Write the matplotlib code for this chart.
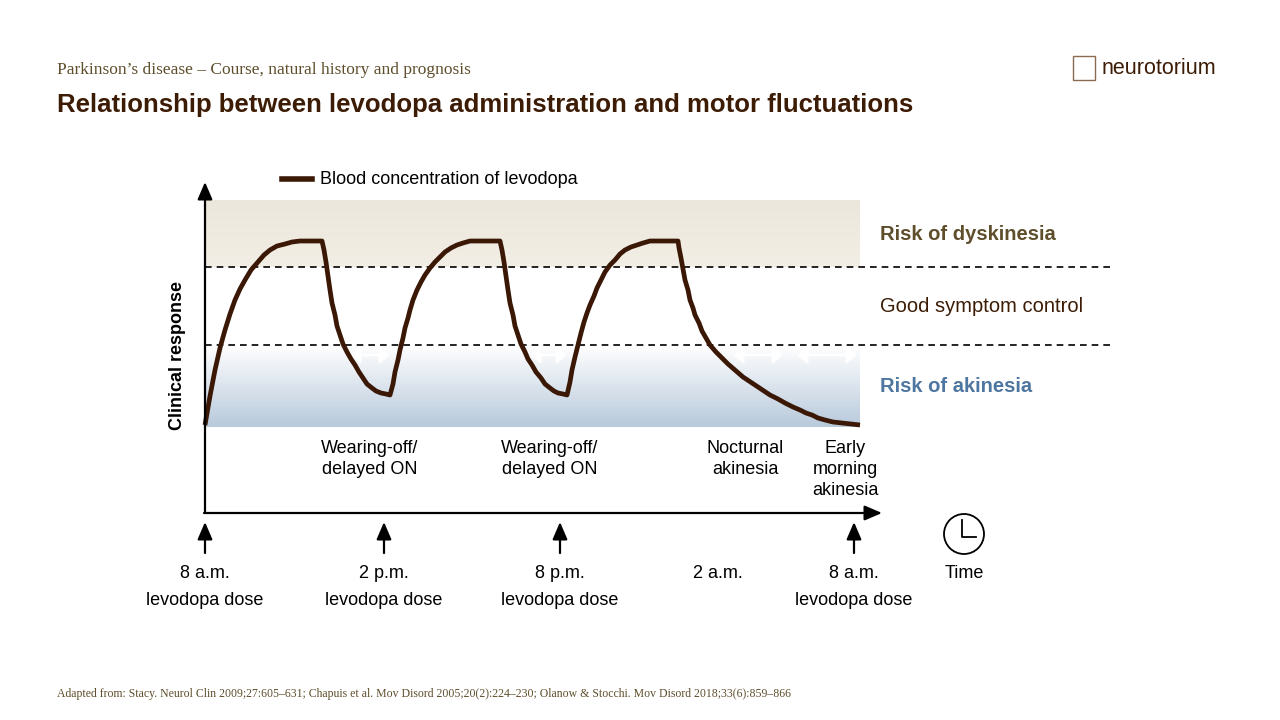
import numpy as np
import matplotlib
matplotlib.use("Agg")
import matplotlib.pyplot as plt
from matplotlib.patches import FancyArrowPatch, Circle

# data (pixel-space reading of the levodopa curve)
curve_x = [205,210,215,220,225,230,235,240,245,251,258,264,270,277,285,292,300,312,322,324,326,328,330,332,335,337,340,343,347,351,355,359,363,367,372,376,381,386,390,
           393,395,398,400,403,405,408,410,413,417,421,425,430,435,440,445,451,457,463,470,477,485,500,502,504,506,508,510,513,515,518,521,525,528,532,536,541,545,550,554,558,563,567,
           570,572,575,578,581,584,587,590,594,597,601,605,610,615,620,625,631,637,643,650,657,664,678,679,681,683,685,688,690,693,695,699,702,706,710,716,722,728,735,743,752,761,770,778,785,793,800,806,812,818,825,833,842,851,860]
curve_y = [425,396,370,348,330,314,300,289,280,270,262,255,250,246,244,242,241,241,241,250,262,276,290,303,315,326,335,344,352,359,365,372,378,384,388,391,393,394,395,
           384,372,360,350,338,328,318,310,300,290,282,275,268,262,257,252,248,245,243,241,241,241,241,250,262,276,290,303,315,326,335,344,352,359,365,372,378,384,388,391,393,394,395,
           382,370,357,345,333,322,313,305,296,288,280,272,265,260,254,250,247,245,243,241,241,241,241,248,258,269,280,290,300,308,315,323,331,338,345,352,358,364,370,377,383,389,395,399,403,407,410,413,415,418,420,422,423,424,425]
dose_x = [205, 384, 560, 718, 854]
dose_labels = ["8 a.m.\nlevodopa dose", "2 p.m.\nlevodopa dose", "8 p.m.\nlevodopa dose", "2 a.m.", "8 a.m.\nlevodopa dose"]
dose_arrow = [True, True, True, False, True]
event_x = [370, 550, 745, 845]
event_labels = ["Wearing-off/\ndelayed ON", "Wearing-off/\ndelayed ON", "Nocturnal\nakinesia", "Early\nmorning\nakinesia"]
white_arrows = [(350, 390), (530, 567), (733, 783), (797, 857)]

BROWN = "#3d1c05"
SANS = "Liberation Sans"
SERIF = "Liberation Serif"
FS = 13

fig = plt.figure(figsize=(12.8, 7.2), dpi=100)
ax = fig.add_axes([0, 0, 1, 1])
ax.set_xlim(0, 1280); ax.set_ylim(720, 0); ax.axis("off")

g1 = np.linspace(0, 1, 100).reshape(-1, 1)
c_top = np.array([0.925, 0.905, 0.86]); c_bot = np.array([0.95, 0.935, 0.9])
img1 = c_top + (c_bot - c_top) * g1[..., None]
ax.imshow(img1, extent=[205, 860, 267, 200], aspect="auto", zorder=0)
c_t2 = np.array([1.0, 1.0, 1.0]); c_b2 = np.array([0.72, 0.79, 0.86])
img2 = c_t2 + (c_b2 - c_t2) * g1[..., None]
ax.imshow(img2, extent=[205, 860, 427, 345], aspect="auto", zorder=0)
ax.set_xlim(0, 1280); ax.set_ylim(720, 0)

for y in (267, 345):
    ax.plot([205, 1112], [y, y], ls=(0, (4, 3)), color="black", lw=1.2, zorder=1)

for a, b in white_arrows:
    ax.add_patch(FancyArrowPatch((a, 355), (b, 355), arrowstyle="<|-|>,head_length=3,head_width=2.5",
                                 color="white", lw=1.8, mutation_scale=2, shrinkA=0, shrinkB=0, zorder=2))

ax.plot(curve_x, curve_y, color="#3a1805", lw=3.4, solid_capstyle="butt", solid_joinstyle="round", zorder=3)

ax.add_patch(FancyArrowPatch((205, 513), (205, 182), arrowstyle="-|>,head_length=7,head_width=3",
                             color="black", lw=1.6, mutation_scale=1.5, shrinkA=0, shrinkB=0, zorder=4))
ax.add_patch(FancyArrowPatch((204, 513), (882, 513), arrowstyle="-|>,head_length=7,head_width=3",
                             color="black", lw=1.6, mutation_scale=1.5, shrinkA=0, shrinkB=0, zorder=4))
ax.text(177, 355, "Clinical response", rotation=90, ha="center", va="center",
        fontsize=FS, fontweight="bold", family=SANS)

ax.plot([282, 312], [179, 179], color="#3a1805", lw=4)
ax.text(320, 179, "Blood concentration of levodopa", va="center", fontsize=FS, family=SANS)

ax.text(880, 234, "Risk of dyskinesia", va="center", fontsize=14.5, fontweight="bold", color="#5e4e2c", family=SANS)
ax.text(880, 306, "Good symptom control", va="center", fontsize=14.5, color=BROWN, family=SANS)
ax.text(880, 386, "Risk of akinesia", va="center", fontsize=14.5, fontweight="bold", color="#4f76a0", family=SANS)

for x, t in zip(event_x, event_labels):
    ax.text(x, 440, t, ha="center", va="top", fontsize=FS, family=SANS, linespacing=1.3)

for x, t, arr in zip(dose_x, dose_labels, dose_arrow):
    if arr:
        ax.add_patch(FancyArrowPatch((x, 553), (x, 522), arrowstyle="-|>,head_length=7,head_width=3",
                                     color="black", lw=1.6, mutation_scale=1.5, shrinkA=0, shrinkB=0))
    ax.text(x, 565, t, ha="center", va="top", fontsize=FS, family=SANS, linespacing=1.75)

ax.add_patch(Circle((964, 534), 20, fill=False, ec="black", lw=1.3))
ax.plot([962, 962, 976], [520, 537, 537], color="black", lw=1.3)
ax.text(964, 574, "Time", ha="center", va="center", fontsize=FS, family=SANS)

ax.text(57, 70, "Parkinson\u2019s disease \u2013 Course, natural history and prognosis", va="center",
        fontsize=12.5, color="#5e4e2c", family=SERIF)
ax.text(57, 105, "Relationship between levodopa administration and motor fluctuations", va="center",
        fontsize=18.5, fontweight="bold", color=BROWN, family=SANS)
ax.text(57, 694, "Adapted from: Stacy. Neurol Clin 2009;27:605\u2013631; Chapuis et al. Mov Disord 2005;20(2):224\u2013230; Olanow & Stocchi. Mov Disord 2018;33(6):859\u2013866",
        va="center", fontsize=8.5, color="#5e4e2c", family=SERIF)
ax.text(1102, 68, "neurotorium", va="center", fontsize=15.5, color=BROWN, family=SANS)
ax.add_patch(plt.Rectangle((1073, 56), 22, 24, fill=False, ec="#8a6a50", lw=1))

fig.savefig("out.png", dpi=100)
